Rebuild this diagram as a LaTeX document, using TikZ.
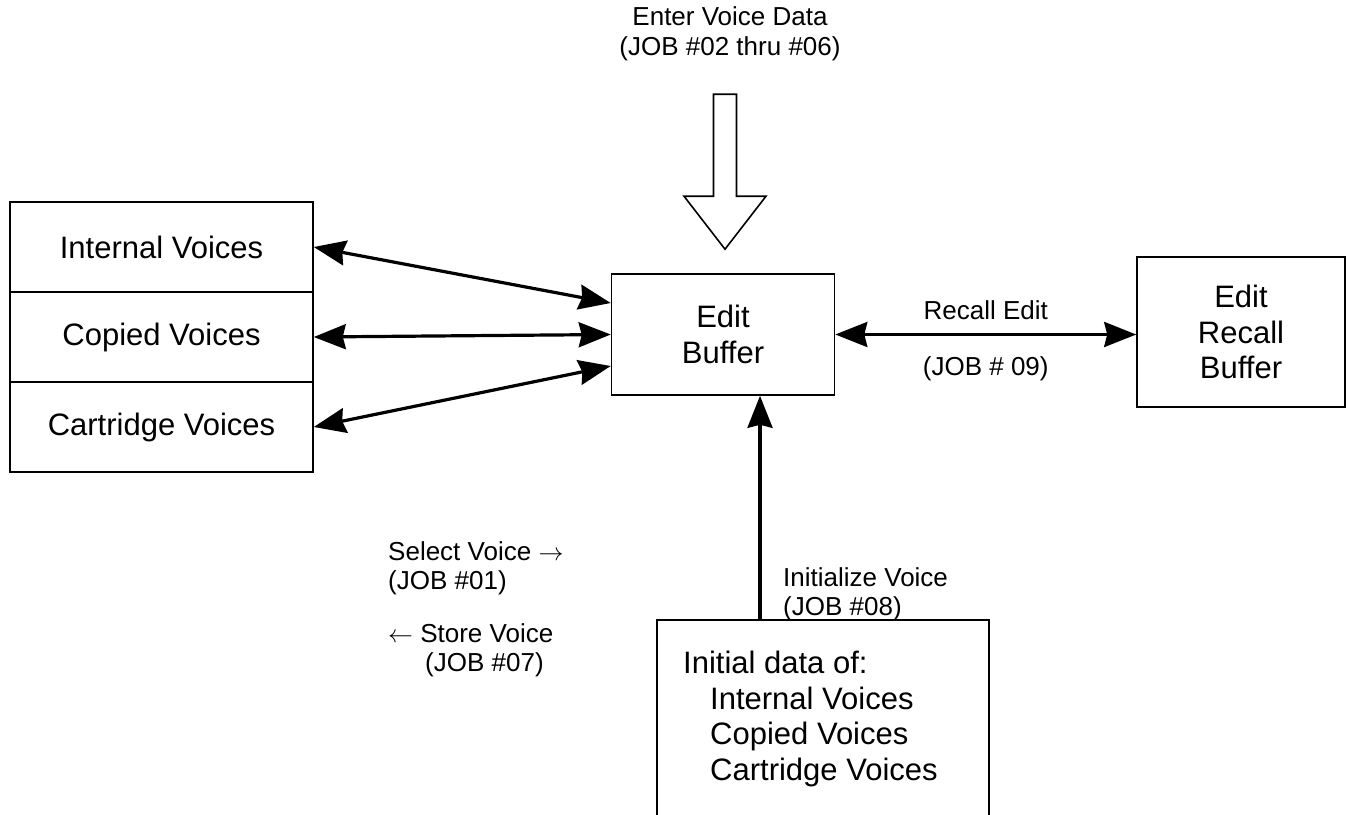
\documentclass[tikz,border=0pt]{standalone}
\usepackage{fontspec}
\setmainfont{Liberation Sans}
\usepackage{tikz}
\usetikzlibrary{arrows.meta, positioning, calc}

\begin{document}
\begin{tikzpicture}[
    x=1pt, y=-1pt,
    box/.style={draw=black, line width=1.6pt, font=\fontsize{31}{35.5}\selectfont, align=center, inner sep=0pt},
    txt/.style={font=\fontsize{26}{29.5}\selectfont, align=left, inner sep=0pt},
    link/.style={line width=3.2pt, {Stealth[length=32pt, width=25pt, inset=3pt]}-{Stealth[length=32pt, width=25pt, inset=3pt]}},
    uplink/.style={line width=3.2pt, -{Stealth[length=32pt, width=25pt, inset=3pt]}}
]
\clip (0,0) rectangle (1348,814);
% voice memories
\node[box, minimum width=303pt, minimum height=90pt] (int) at (161.5, 247) {Internal Voices};
\node[box, minimum width=303pt, minimum height=90pt] (cop) at (161.5, 337) {Copied Voices};
\node[box, minimum width=303pt, minimum height=90pt] (cart) at (161.5, 427) {Cartridge Voices};
% buffers
\node[box, minimum width=223pt, minimum height=121pt] (buf) at (723, 334.5) {Edit\\Buffer};
\node[box, minimum width=208pt, minimum height=150pt] (recall) at (1241, 332) {Edit\\Recall\\Buffer};
\node[box, minimum width=332pt, minimum height=260pt, anchor=north west] (init) at (656, 619) {};
\node[txt, font=\fontsize{31}{35.5}\selectfont, anchor=north west] (inittxt) at ([xshift=27pt, yshift=-32pt]init.north west)
    {Initial data of:\\\hspace*{27pt}Internal Voices\\\hspace*{27pt}Copied Voices\\\hspace*{27pt}Cartridge Voices};
% labels
\node[txt, align=center] (enter) at (730, 34) {Enter Voice Data\\(JOB \#02 thru \#06)};
\node[txt, anchor=north west] (sel) at (388, 541) {Select Voice $\rightarrow$\\(JOB \#01)};
\node[txt, anchor=north west] (store) at (388, 623) {$\leftarrow$ Store Voice\\\hspace*{37pt}(JOB \#07)};
\node[txt, anchor=north west] (initlbl) at (783, 567) {Initialize Voice\\(JOB \#08)};
% arrows
\draw[link] (int.east) -- ([yshift=31.5pt]buf.west);
\draw[link] (cop.east) -- (buf.west);
\draw[link] (cart.east) -- ([yshift=-31.5pt]buf.west);
\draw[link] (buf.east) -- (buf.east -| recall.west)
    node[txt, midway, above=13pt] (recl) {Recall Edit}
    node[txt, midway, below=21pt] (job9) {(JOB \# 09)};
\coordinate (up) at (760, 0);
\draw[uplink] (init.north -| up) -- (buf.south -| up);
\draw[line width=1.6pt, line join=miter] ($(buf.north)+(2,-24)$) coordinate (tip)
    -- ++(-41,-53) -- ++(29.5,0) -- ++(0,-102) -- ++(23,0) -- ++(0,102) -- ++(29.5,0) -- cycle;
\end{tikzpicture}
\end{document}
